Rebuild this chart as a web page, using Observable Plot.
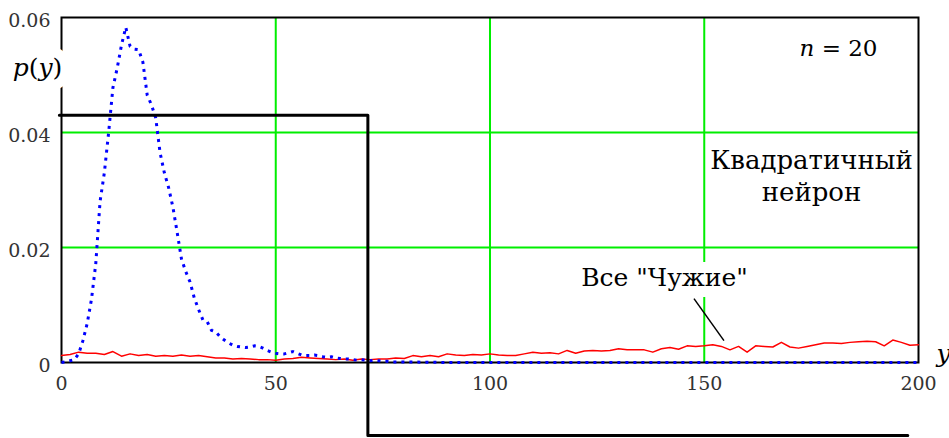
<!DOCTYPE html>
<html>
<head>
<meta charset="utf-8">
<script src="https://cdn.jsdelivr.net/npm/d3@7"></script>
<script src="https://cdn.jsdelivr.net/npm/@observablehq/plot@0.6"></script>
<style>
  html, body { margin: 0; padding: 0; background: #ffffff; }
</style>
</head>
<body>
<div id="chart"></div>
<script>
// ---- Data ----
// Blue dotted curve: "Квадратичный нейрон" distribution p(y)
const blueX = [
  0,1,2,3,4,5,6,7,8,9,10,11,12,13,14,15,16,17,18,19,20,
  21,22,23,24,25,26,27,28,29,30,31,32,33,34,35,36,37,38,39,40,
  41,42,43,44,45,46,47,48,49,50,51,52,53,54,55,56,57,58,59,60,
  61,62,63,64,65,66,67,68,69,70,71,72,73,74,75,76,77,78,79,80,
  90,100,110,120,130,140,150,160,170,180,190,200
];
const blueY = [
  0.0000,0.0001,0.0003,0.0005,0.0015,0.0038,0.0068,0.0110,0.0172,0.0280,0.0330,
  0.0400,0.0478,0.0512,0.0552,0.0583,0.0550,0.0545,0.0544,0.0522,0.0465,
  0.0448,0.0425,0.0365,0.0330,0.0304,0.0270,0.0226,0.0180,0.0158,0.0140,
  0.0112,0.0092,0.0074,0.0071,0.0056,0.0053,0.0045,0.0039,0.0034,0.0030,
  0.0028,0.0027,0.0026,0.0027,0.0029,0.0028,0.0025,0.0021,0.0018,0.0016,
  0.0015,0.0015,0.0017,0.0019,0.0016,0.0013,0.0012,0.0012,0.0013,0.0012,
  0.0010,0.0009,0.0010,0.0008,0.0007,0.0006,0.0006,0.0005,0.0004,0.0005,
  0.0004,0.0003,0.0004,0.0003,0.0002,0.0002,0.0001,0.0001,0.0001,0.0001,
  0,0,0,0,0,0,0,0,0,0,0,0
];

// Red solid curve: "Все Чужие" distribution (every 2 units of y)
const redX = d3.range(0, 201, 2);
const redY = [
  0.0012,0.0014,0.0018,0.0016,0.0016,0.0014,0.0019,0.0011,0.0015,0.0012,
  0.0014,0.0011,0.0012,0.0011,0.0013,0.0011,0.0012,0.0010,0.0008,0.0008,
  0.0006,0.0007,0.0006,0.0005,0.0005,0.0004,0.0006,0.0007,0.0009,0.0008,
  0.0007,0.0006,0.0005,0.0006,0.0004,0.0006,0.0005,0.0006,0.0006,0.0008,
  0.0007,0.0012,0.0010,0.0012,0.0010,0.0015,0.0013,0.0012,0.0014,0.0013,
  0.0015,0.0013,0.0012,0.0012,0.0015,0.0018,0.0016,0.0017,0.0015,0.0021,
  0.0016,0.0020,0.0021,0.0020,0.0021,0.0024,0.0022,0.0022,0.0022,0.0018,
  0.0024,0.0026,0.0023,0.0029,0.0028,0.0029,0.0031,0.0028,0.0022,0.0028,
  0.0018,0.0029,0.0028,0.0027,0.0035,0.0027,0.0025,0.0028,0.0031,0.0034,
  0.0034,0.0033,0.0035,0.0036,0.0037,0.0036,0.0029,0.0039,0.0035,0.0030,
  0.0031
];

// Black step (threshold) line
const stepX = [-0.5, 71.5, 71.5, 197.5];
const stepY = [0.043, 0.043, -0.0127, -0.0127];

// Ticks
const xTicks = [0, 50, 100, 150, 200];
const xTickLabels = ["0", "50", "100", "150", "200"];
const yTicks = [0, 0.02, 0.04, 0.06];
const yTickLabels = ["0", "0.02", "0.04", "0.06"];
const xGrid = [50, 100, 150];
const yGrid = [0.02, 0.04];

// Annotation texts and leader line
const labelPY = ["p(y)"];
const labelN = ["n = 20"];
const labelNeuron = ["Квадратичный\nнейрон"];
const labelAliens = ["Все \"Чужие\""];
const labelYAxis = ["y"];
const leader = [{x1: 147.6, y1: 0.0111, x2: 154.6, y2: 0.0038}];

// ---- Build tables ----
const blue = blueX.map((x, i) => ({x, y: blueY[i]}));
const red = redX.map((x, i) => ({x, y: redY[i]}));
const step = stepX.map((x, i) => ({x, y: stepY[i]}));

const serif = "DejaVu Serif";

const chart = Plot.plot({
  width: 949,
  height: 438,
  marginLeft: 61,
  marginRight: 31,
  marginTop: 17,
  marginBottom: 76,
  x: {domain: [0, 200]},
  y: {domain: [0, 0.06]},
  marks: [
    Plot.gridX(xGrid, {stroke: "#00ee00", strokeOpacity: 1, strokeWidth: 2}),
    Plot.gridY(yGrid, {stroke: "#00ee00", strokeOpacity: 1, strokeWidth: 2}),
    Plot.frame({stroke: "#000000", strokeWidth: 2}),
    Plot.axisX(xTicks, {
      tickSize: 0, tickPadding: 14, fontSize: 19, fill: "#333", fontFamily: serif,
      tickFormat: (d, i) => xTickLabels[i], label: null
    }),
    Plot.axisY(yTicks, {
      tickSize: 0, tickPadding: 11, fontSize: 19, fill: "#333", dy: 3, fontFamily: serif,
      tickFormat: (d, i) => yTickLabels[i], label: null
    }),
    Plot.line(red, {x: "x", y: "y", stroke: "#ff0000", strokeWidth: 1.5}),
    Plot.line(blue, {x: "x", y: "y", stroke: "#0000ff", strokeWidth: 3,
      strokeDasharray: "3,5", strokeLinecap: "butt"}),
    Plot.line(step, {x: "x", y: "y", stroke: "#000000", strokeWidth: 3, strokeLinecap: "round"}),
    // white halo behind p(y) (masks the frame there)
    Plot.text(labelPY, {
      frameAnchor: "top-left", dx: -24, dy: 58, textAnchor: "middle", lineAnchor: "bottom",
      fontSize: 25, fontFamily: serif, fill: "#ffffff", stroke: "#ffffff", strokeWidth: 20
    }),
    Plot.text(labelPY, {
      frameAnchor: "top-left", dx: -24, dy: 58, textAnchor: "middle", lineAnchor: "bottom",
      fontSize: 25, fontFamily: serif, fill: "#000"
    }),
    Plot.text(labelN, {
      frameAnchor: "top-right", dx: -41, dy: 38, textAnchor: "end", lineAnchor: "bottom",
      fontSize: 23, fontFamily: serif, fill: "#000"
    }),
    Plot.text(labelNeuron, {
      frameAnchor: "top-right", dx: -107, dy: 183, textAnchor: "middle", lineAnchor: "bottom",
      lineHeight: 1.23, fontSize: 26, fontFamily: serif, fill: "#000"
    }),
    Plot.text(labelAliens, {
      frameAnchor: "bottom-right", dx: -254, dy: -77, textAnchor: "middle", lineAnchor: "bottom",
      fontSize: 25, fontFamily: serif, fill: "#000", stroke: "#ffffff", strokeWidth: 22
    }),
    Plot.text(labelYAxis, {
      frameAnchor: "bottom-right", dx: 18, dy: -1, textAnchor: "start", lineAnchor: "bottom",
      fontSize: 25, fontStyle: "italic", fontFamily: serif, fill: "#000"
    }),
    Plot.link(leader, {x1: "x1", y1: "y1", x2: "x2", y2: "y2", stroke: "#000", strokeWidth: 1.5})
  ]
});

// Mixed italic/roman math-style labels
d3.select(chart).selectAll("text").each(function() {
  const t = this.textContent;
  const parts = t === "p(y)" ? [["p", true], ["(", false], ["y", true], [")", false]]
             : t === "n = 20" ? [["n", true], [" = 20", false]] : null;
  if (!parts) return;
  const el = d3.select(this);
  el.text(null);
  for (const [s, it] of parts) {
    el.append("tspan").attr("font-style", it ? "italic" : "normal").text(s);
  }
});

document.getElementById("chart").appendChild(chart);
</script>
</body>
</html>
